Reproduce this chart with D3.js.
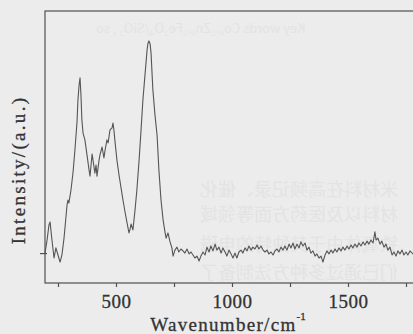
<!DOCTYPE html>
<html>
<head>
<meta charset="utf-8">
<script src="https://cdn.jsdelivr.net/npm/d3@7"></script>
<style>
  html, body { margin: 0; padding: 0; background: #ececec; }
  svg { display: block; }
</style>
</head>
<body>
<div id="viz"></div>
<script>
// spectrum: wavenumber (cm-1) and intensity (a.u.)
const wavenumbers = [194,203,211,216,224,233,241,250,259,267,276,280,289,293,297,306,315,323,332,336,341,345,349,353,358,366,375,384,388,397,401,409,414,418,427,431,440,448,453,461,466,474,483,487,491,496,504,513,522,530,539,547,556,560,565,573,582,590,599,608,616,625,634,638,642,647,651,659,668,677,685,694,703,711,716,724,733,741,746,754,763,771,780,789,797,806,815,823,832,840,849,858,866,875,884,892,901,909,918,927,935,944,953,961,970,978,987,996,1004,1013,1021,1030,1039,1047,1056,1065,1073,1082,1090,1099,1108,1116,1125,1134,1142,1151,1159,1168,1177,1185,1194,1202,1211,1220,1228,1237,1246,1254,1263,1271,1280,1289,1297,1306,1315,1323,1332,1340,1349,1358,1366,1375,1384,1392,1401,1409,1418,1427,1435,1444,1452,1461,1470,1478,1487,1496,1504,1513,1521,1530,1539,1547,1556,1565,1573,1582,1590,1599,1608,1616,1621,1629,1638,1646,1655,1664,1672,1681,1690,1698,1707,1715,1724,1733,1741,1750,1758,1767,1780,1790];
const intensity = [11.0,15.8,21.3,22.4,15.8,9.2,12.9,10.3,7.7,10.3,16.5,20.2,28.7,30.5,29.4,34.2,40.8,48.9,59.2,67.3,72.8,75.4,69.1,59.9,55.1,52.6,47.1,41.5,39.3,47.4,45.2,40.4,43.4,39.3,45.2,47.1,50.0,46.0,48.9,52.6,51.5,56.3,57.0,58.8,56.3,51.8,45.2,39.7,34.9,30.5,26.1,22.4,18.4,19.5,21.7,19.5,26.8,34.2,44.5,56.3,67.3,76.5,85.7,88.2,89.0,87.9,84.6,71.0,61.8,54.4,41.5,30.5,23.2,18.8,16.5,18.4,15.1,12.9,9.9,12.1,13.2,11.4,12.5,11.8,11.0,12.5,10.7,11.4,10.3,9.2,9.9,8.1,9.9,11.4,10.3,13.2,11.4,13.6,11.8,14.3,12.1,13.2,11.0,12.9,11.4,9.9,12.1,10.7,9.2,11.0,9.2,11.4,12.1,11.0,12.9,11.8,13.6,12.1,13.2,12.5,14.0,12.5,13.6,12.1,11.4,12.1,10.7,11.4,10.3,11.8,12.5,11.4,13.2,12.1,13.6,12.1,14.3,12.9,14.7,12.5,14.3,12.9,15.1,13.6,14.7,12.1,13.2,11.0,11.8,9.9,10.7,9.2,9.9,7.7,10.3,11.8,10.7,12.1,11.0,12.5,11.4,12.9,11.8,13.2,12.1,13.6,12.5,14.0,12.9,14.3,13.2,14.7,13.6,15.1,14.0,15.4,14.3,15.8,14.7,18.8,15.8,16.5,14.3,15.4,13.2,14.3,12.1,13.2,10.3,11.4,9.9,11.8,10.7,12.1,10.3,11.4,10.3,11.8,10.7,11.4];

const xTicks = [250, 500, 750, 1000, 1250, 1500, 1750];
const xLabelled = [500, 1000, 1500];
const yTicks = [11];

// faint print showing through from the back of the page (mirrored)
const ghostLines = [
  {t: "Key words   Co₀.₅Zn₀.₅Fe₂O₄/SiO₂ , so", x: 96, y: 33, size: 13},
  {t: "米材料在高频记录、催化", x: 200, y: 196, size: 18},
  {t: "材料以及医药方面等领域", x: 200, y: 221, size: 18},
  {t: "铁氧体由于其独特的电磁", x: 200, y: 251, size: 18},
  {t: "们已通过多种方法制备了", x: 200, y: 279, size: 18}
];

const W = 413, H = 334;
const svg = d3.select('#viz').append('svg')
  .attr('width', W)
  .attr('height', H);

svg.append('rect').attr('width', W).attr('height', H).attr('fill', '#ececec');

svg.append('g').selectAll('text')
  .data(ghostLines)
  .enter()
  .append('text')
  .attr('transform', d => `translate(${d.x},${d.y}) scale(-1,1)`)
  .attr('text-anchor', 'end')
  .attr('font-family', '"Noto Sans CJK SC", "Liberation Serif", serif')
  .attr('font-size', d => d.size)
  .attr('fill', '#e3e3e3')
  .text(d => d.t);

// scales, the frame runs off the right edge of the scan
const x = d3.scaleLinear().domain([194, 2000]).range([45, 464]);
const y = d3.scaleLinear().domain([0, 100]).range([283, 11]);

const ink = '#505050';
const textInk = '#333';

svg.append('rect')
  .attr('x', 45).attr('y', 11)
  .attr('width', 464 - 45).attr('height', 283 - 11)
  .attr('fill', 'none')
  .attr('stroke', ink)
  .attr('stroke-width', 1.2);

const xAxis = d3.axisBottom(x)
  .tickValues(xTicks)
  .tickSize(4)
  .tickPadding(10)
  .tickFormat(d => xLabelled.includes(d) ? d : '');

const gx = svg.append('g')
  .attr('transform', 'translate(0,283)')
  .call(xAxis);
gx.select('.domain').remove();
gx.selectAll('line').attr('stroke', ink).attr('stroke-width', 1.2);
gx.selectAll('text')
  .attr('dy', '0.6em')
  .attr('fill', textInk)
  .attr('stroke', textInk)
  .attr('stroke-width', 0.3)
  .attr('font-family', '"Liberation Serif", serif')
  .attr('font-size', 19)
  .attr('letter-spacing', 0.5);

const yAxis = d3.axisLeft(y).tickValues(yTicks).tickSize(5).tickFormat('');
const gy = svg.append('g')
  .attr('transform', 'translate(45,0)')
  .call(yAxis);
gy.select('.domain').remove();
gy.selectAll('line').attr('stroke', ink).attr('stroke-width', 1.2).attr('x2', -5).attr('x1', 2);

// the spectrum
const line = d3.line()
  .x((d, i) => x(wavenumbers[i]))
  .y(d => y(d));

svg.append('path')
  .datum(intensity)
  .attr('d', line)
  .attr('fill', 'none')
  .attr('stroke', '#555')
  .attr('stroke-width', 1.1)
  .attr('stroke-linejoin', 'round');

// axis titles
const xt = svg.append('text')
  .attr('x', 228).attr('y', 331)
  .attr('text-anchor', 'middle')
  .attr('font-family', '"Liberation Serif", serif')
  .attr('font-size', 19)
  .attr('letter-spacing', 1.3)
  .attr('fill', textInk)
  .attr('stroke', textInk)
  .attr('stroke-width', 0.3)
  .text('Wavenumber/cm');
xt.append('tspan')
  .attr('dy', -11)
  .attr('font-size', 11)
  .attr('letter-spacing', 0)
  .text('-1');

svg.append('text')
  .attr('transform', 'translate(25,170) rotate(-90)')
  .attr('text-anchor', 'middle')
  .attr('font-family', '"Liberation Serif", serif')
  .attr('font-size', 19)
  .attr('letter-spacing', 2.3)
  .attr('fill', textInk)
  .attr('stroke', textInk)
  .attr('stroke-width', 0.3)
  .text('Intensity/(a.u.)');
</script>
</body>
</html>
